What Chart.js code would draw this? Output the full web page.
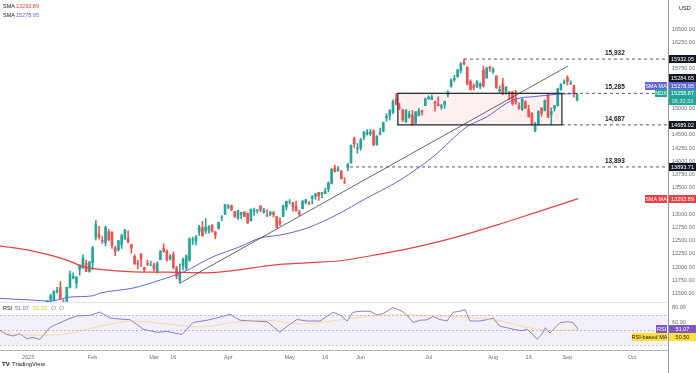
<!DOCTYPE html>
<html>
<head>
<meta charset="utf-8">
<script src="https://cdn.jsdelivr.net/npm/chart.js@4"></script>
<style>
  html, body { margin: 0; padding: 0; background: #fff; }
  #wrap { position: relative; width: 696px; height: 373px; overflow: hidden; }
  #price { position: absolute; left: 0; top: 0; }
  #rsi { position: absolute; left: 0; top: 302px; }
</style>
</head>
<body>
<div id="wrap">
  <canvas id="price" width="696" height="302"></canvas>
  <canvas id="rsi" width="696" height="71"></canvas>
</div>
<script>
// NDX daily candles, bar index 0 = 3 Jan 2023
const open = [11034,10934,10842,10815,11124,11079,11206,11397,11375,11530,
  11615,11339,11352,11612,11795,11700,11954,11982,12074,11920,
  12084,12566,12620,12507,12459,12669,12660,12367,12330,12426,
  12530,12545,12424,12205,12065,12243,11996,12070,12036,12040,
  11894,12143,12353,12302,12155,12238,11987,11746,12032,11988,
  12130,12510,12488,12666,12744,12684,12699,12791,12669,12735,
  12941,12998,13135,13164,13051,12928,12997,13045,13010,12881,
  13054,13068,13155,13035,12981,12994,13026,12954,12864,12957,
  13136,13235,13212,13150,13034,13105,13221,13211,13298,13342,
  13414,13377,13389,13472,13584,13881,13819,13807,13612,13879,
  13971,14426,14237,14257,14451,14510,14524,14574,14321,14514,
  14569,14822,14865,14924,15185,15024,14970,14743,14840,14875,
  14723,14864,14954,15055,15180,15165,15120,15078,15023,15072,
  15259,15409,15548,15602,15715,15873,15777,15510,15428,15417,
  15415,15719,15577,15777,15701,15613,15329,15459,15321,15312,
  15305,15187,15047,14980,15122,14977,14901,14575,14702,15005,
  14958,15279,14877,15000,15059,15358,15476,15580,15471,15432,
  15162];
const high = [11086,10984,10861,11062,11286,11189,11364,11491,11554,11619,
  11727,11387,11624,11925,11892,11822,12045,12233,12131,12102,
  12395,12881,12773,12580,12780,12714,12673,12392,12507,12624,
  12710,12685,12431,12237,12134,12262,12002,12132,12114,12076,
  12102,12313,12442,12330,12237,12287,12018,12061,12174,12233,
  12558,12568,12596,12794,12865,12919,12788,12806,12674,12852,
  12976,13186,13190,13175,13057,13075,13036,13047,13024,13103,
  13116,13090,13165,13112,13083,13053,13056,12961,12934,13171,
  13248,13278,13229,13247,13075,13263,13283,13238,13356,13395,
  13416,13416,13494,13612,13863,13928,13904,13829,13690,13964,
  14311,14459,14336,14433,14566,14598,14605,14596,14486,14630,
  14740,14900,14978,15164,15285,15099,14987,14977,14943,14960,
  14940,15008,14967,15196,15237,15255,15138,15220,15077,15141,
  15333,15559,15626,15736,15866,15932,15790,15541,15463,15524,
  15487,15800,15783,15797,15770,15617,15426,15569,15413,15321,
  15321,15341,15104,15181,15146,15060,14923,14738,14959,15014,
  15161,15285,15012,15059,15382,15469,15540,15618,15522,15440,
  15275];
const low = [10757,10783,10719,10697,11097,11046,11167,11272,11362,11511,
  11399,11253,11317,11603,11776,11603,11847,11979,11913,11904,
  11953,12517,12529,12447,12403,12496,12352,12218,12300,12353,
  12523,12460,12263,12055,11971,12010,11910,12029,12035,11928,
  11887,12138,12280,12114,12138,11967,11779,11697,11948,11949,
  12111,12427,12422,12598,12584,12636,12641,12660,12535,12717,
  12879,12996,13101,13065,12937,12901,12916,12952,12823,12868,
  12978,13019,13044,13020,12954,12969,12947,12742,12786,12951,
  13079,13195,13060,13058,12967,13101,13194,13185,13194,13281,
  13262,13311,13387,13427,13571,13796,13812,13664,13580,13820,
  13966,14261,14152,14210,14405,14492,14487,14296,14301,14501,
  14561,14755,14781,14900,15064,14977,14755,14740,14816,14680,
  14710,14856,14870,15050,15171,15163,14949,15046,14981,15001,
  15218,15400,15507,15588,15668,15820,15441,15344,15347,15392,
  15372,15400,15565,15700,15663,15374,15300,15260,15270,15163,
  15059,15079,14980,14958,14994,14840,14683,14557,14687,14849,
  14952,14826,14687,14948,15041,15340,15462,15441,15449,15213,
  15139];
const close = [10862,10914,10741,11040,11108,11179,11364,11459,11541,11557,
  11409,11305,11620,11865,11834,11813,12041,12167,11919,12102,
  12364,12804,12574,12493,12747,12518,12409,12304,12497,12596,
  12708,12478,12359,12061,12061,12150,11951,12057,12042,11969,
  12075,12302,12303,12146,12213,11993,11830,11889,12148,12214,
  12526,12520,12573,12762,12592,12755,12767,12676,12606,12846,
  12950,13181,13148,13090,12962,13062,13035,12956,12839,13092,
  13079,13079,13084,13081,12980,13040,12996,12747,12830,13160,
  13246,13239,13142,13060,13006,13239,13276,13193,13336,13389,
  13340,13407,13433,13590,13852,13810,13856,13672,13604,13939,
  14298,14330,14254,14405,14547,14546,14554,14311,14471,14539,
  14737,14848,14957,15128,15084,15015,14788,14963,14891,14685,
  14939,14954,14934,15179,15211,15217,15099,15049,15047,15126,
  15309,15538,15565,15723,15842,15846,15465,15356,15395,15509,
  15466,15428,15758,15757,15735,15391,15358,15274,15402,15276,
  15087,15115,15006,15178,15003,14841,14694,14694,14941,14902,
  15148,14829,14941,15048,15366,15452,15501,15510,15481,15284,
  15259];

// moving averages (bar index, value)
const sma50Idx = [-8.7,1.5,6.8,13,20,22.3,32.5,40.9,48,57.3,65.6,71.8,78,86.4,96.6,103.7,115.2,125.4,135.9,142.1,148.3,152.3,156.3,164.7,170.3];
const sma50 = [11410,11378,11359,11435,11459,11510,11605,11756,11907,12197,12386,12550,12607,12739,13022,13268,13646,14086,14653,14842,15101,15196,15220,15271,15279];
const sma200Idx = [-8.7,1.5,12.1,17,22.3,32.5,43,55.4,63.5,75.9,86.4,96.6,109,121.4,133.7,146.1,158.5,170.3];
const sma200 = [12404,12304,12134,12011,11958,11913,11907,11894,11936,12040,12083,12121,12248,12399,12588,12815,13060,13294];

// RSI pane
const rsiIdx = [-8.7,-6.6,-4.6,-2.5,-0.4,1.5,3.7,6.8,12.1,15.2,19.2,22.3,25.4,28.5,31.6,33.7,35.6,39.9,43,47.7,
  51.1,55.4,58.5,62.5,65.6,69.7,74,78,80.2,83.3,86.4,90.4,94.4,96.6,98.8,100.6,102.8,105.9,108,110,
  113,115.8,117.3,119.2,121.4,123.5,125.4,127.6,129.7,131.6,133.7,135.3,136.8,139.9,142.4,144,146.1,148.3,150.2,152.9,
  154.5,156.3,157.6,159.1,160.1,161.6,164.7,166.9,168.7,170.3];
const rsiVal = [50,44,42,45,38.5,40,37.6,53.5,64,68.7,69.6,74,66,64.5,63.7,57.6,51,47,48,44,
  60,63,66,71,63,62,61,47,55,64,62,62,73.6,70,62,73.6,75,75,70,72,
  80,75,70,60,63,63.5,68,64,62,73.6,75,77,62,62,64,66,55,53,51,49,
  51,44,37.7,44,53,46,60,61,60,51.07];
const rsiMaIdx = [-8.7,1.5,12.1,22.3,32.5,43,53.3,63.5,74,84.2,94.4,105,115.2,125.4,135.9,146.1,156.3,164.7,170.3];
const rsiMa = [47,43,45,55,62,58,54,60,63,58,62,68,71,69,67,62,52,49,50.5];

// drawings
const levels = [15932.05, 15284.65, 14689.02, 13893.71];
const levelFrom = [135, 165.3, 165.3, 99.7];
const levelText = ['15,932', '15,285', '14,687', '13,893'];
const boxFrom = 114.5, boxTo = 165.3;
const trendIdx = [47, 167.2];
const trendVal = [11697, 15801];

// axes
const priceTicks = [11500,11750,12000,12250,12500,12750,13000,13500,13750,14000,14250,14500,15000,15750,16250,16500];
const tickIdx = [0, 20, 39, 45, 62, 81, 92, 103, 124, 144, 155, 167, 187];
const tickText = ['2023', 'Feb', 'Mar', '16', 'Apr', 'May', '16', 'Jun', 'Jul', 'Aug', '16', 'Sep', 'Oct'];

const UP = '#26a69a', DOWN = '#ef5350';
const SMA_RED = '#e8413f', SMA_BLUE = '#6266d6', RSI_COL = '#8b7fcf';
const xMin = -8.67, xMax = 198.14;
const FONT = '"Liberation Sans", Arial, sans-serif';
Chart.defaults.font.family = FONT;

const candleColor = c => close[c.dataIndex] >= open[c.dataIndex] ? UP : DOWN;
const pts = (xs, ys) => xs.map((x, k) => ({x: x, y: ys[k]}));
const noPad = s => { s.paddingTop = 0; s.paddingBottom = 0; s.paddingLeft = 0; s.paddingRight = 0; };

function tag(ctx, x, y, w, text, bg, fg) {
  ctx.fillStyle = bg;
  ctx.fillRect(x, Math.round(y) - 4, w, 8);
  ctx.fillStyle = fg;
  ctx.textAlign = 'center';
  ctx.textBaseline = 'middle';
  ctx.fillText(text, x + w / 2, Math.round(y) + 0.5);
}

const priceDecor = {
  id: 'priceDecor',
  beforeDatasetsDraw(chart) {
    const {ctx, scales: {x, y}} = chart;
    const x0 = x.getPixelForValue(boxFrom), x1 = x.getPixelForValue(boxTo);
    const y0 = y.getPixelForValue(levels[1]), y1 = y.getPixelForValue(levels[2]);
    ctx.save();
    ctx.fillStyle = 'rgba(242, 54, 69, 0.08)';
    ctx.fillRect(x0, y0, x1 - x0, y1 - y0);
    ctx.restore();
  },
  afterDatasetsDraw(chart) {
    const {ctx, scales: {x, y}} = chart;
    const x0 = x.getPixelForValue(boxFrom), x1 = x.getPixelForValue(boxTo);
    const y0 = y.getPixelForValue(levels[1]), y1 = y.getPixelForValue(levels[2]);
    ctx.save();
    ctx.strokeStyle = '#2a2e39';
    ctx.lineWidth = 1.3;
    ctx.strokeRect(x0, y0, x1 - x0, y1 - y0);
    // level captions
    ctx.font = 'bold 6.5px ' + FONT;
    ctx.fillStyle = '#131722';
    ctx.textAlign = 'left';
    ctx.textBaseline = 'alphabetic';
    levels.forEach((v, k) => {
      ctx.fillText(levelText[k], x.getPixelForValue(178.6), y.getPixelForValue(v) - 4);
    });
    ctx.restore();
  },
  afterDraw(chart) {
    const {ctx, scales: {y}} = chart;
    const ax = 669, aw = 27;
    ctx.save();
    ctx.font = '5.5px ' + FONT;
    // axis tags
    tag(ctx, ax, y.getPixelForValue(levels[0]), aw, '15932.05', '#131722', '#fff');
    const last = y.getPixelForValue(close[close.length - 1]) - 1.5;
    tag(ctx, ax, last - 15, aw, '15284.65', '#131722', '#fff');
    tag(ctx, ax, last - 7.5, aw, '15278.95', SMA_BLUE, '#fff');
    tag(ctx, ax, last, aw, '15258.87', UP, '#fff');
    tag(ctx, ax, last + 7.5, aw, '06:32:33', UP, '#cfeee9');
    tag(ctx, ax, y.getPixelForValue(levels[2]), aw, '14689.02', '#131722', '#fff');
    tag(ctx, ax, y.getPixelForValue(levels[3]), aw, '13893.71', '#131722', '#fff');
    tag(ctx, ax, y.getPixelForValue(13293.89), aw, '13293.89', SMA_RED, '#fff');
    // pane labels left of the axis
    tag(ctx, 645, last - 7.5, 22, 'SMA MA', SMA_BLUE, '#fff');
    tag(ctx, 655, last, 12, 'NDX', UP, '#fff');
    tag(ctx, 645, y.getPixelForValue(13293.89), 22, 'SMA MA', SMA_RED, '#fff');
    // currency
    ctx.fillStyle = '#131722';
    ctx.textAlign = 'left';
    ctx.fillText('USD', 679, 8);
    // legends
    ctx.textBaseline = 'middle';
    ctx.fillStyle = '#131722';
    ctx.fillText('SMA', 3, 6);
    ctx.fillText('SMA', 3, 15);
    ctx.fillStyle = SMA_RED;
    ctx.fillText('13293.89', 16, 6);
    ctx.fillStyle = SMA_BLUE;
    ctx.fillText('15278.95', 16, 15);
    ctx.restore();
  }
};

new Chart(document.getElementById('price'), {
  type: 'bar',
  data: {
    datasets: [
      {type: 'bar', data: close.map((c, i) => ({x: i, y: [low[i], high[i]]})),
        backgroundColor: candleColor, barThickness: 1, grouped: false, order: 6},
      {type: 'bar', data: close.map((c, i) => ({x: i, y: [open[i], c]})),
        backgroundColor: candleColor, barThickness: 2, grouped: false, order: 5},
      {type: 'line', data: pts(sma200Idx, sma200), borderColor: SMA_RED, borderWidth: 1.2,
        pointRadius: 0, cubicInterpolationMode: 'monotone', order: 2},
      {type: 'line', data: pts(sma50Idx, sma50), borderColor: SMA_BLUE, borderWidth: 1,
        pointRadius: 0, cubicInterpolationMode: 'monotone', order: 2},
      {type: 'line', data: pts(trendIdx, trendVal), borderColor: '#3b3e47', borderWidth: 0.8,
        pointRadius: 0, order: 1},
      ...levels.map((v, k) => ({type: 'line', data: [{x: levelFrom[k], y: v}, {x: xMax, y: v}],
        borderColor: '#2a2e39', borderWidth: 0.8, borderDash: [3, 3], pointRadius: 0, order: 1}))
    ]
  },
  options: {
    responsive: false, animation: false, devicePixelRatio: 1,
    layout: {padding: 0},
    plugins: {legend: {display: false}, tooltip: {enabled: false}},
    scales: {
      x: {type: 'linear', min: xMin, max: xMax, display: false, offset: false},
      y: {position: 'right', min: 11342, max: 17048,
        afterFit: s => { s.width = 28; noPad(s); },
        afterBuildTicks: s => { s.ticks = priceTicks.map(v => ({value: v})); },
        grid: {display: false, drawTicks: false},
        border: {display: true, color: '#9598a1', width: 1},
        ticks: {padding: 4, font: {size: 5.5}, color: '#6a6d78', callback: v => v.toFixed(2)}}
    }
  },
  plugins: [priceDecor]
});

const rsiDecor = {
  id: 'rsiDecor',
  beforeDatasetsDraw(chart) {
    const {ctx, chartArea: a, scales: {y}} = chart;
    ctx.save();
    ctx.fillStyle = 'rgba(126, 87, 194, 0.09)';
    ctx.fillRect(a.left, y.getPixelForValue(70), a.right - a.left, y.getPixelForValue(30) - y.getPixelForValue(70));
    ctx.strokeStyle = 'rgba(120, 123, 134, 0.55)';
    ctx.lineWidth = 0.8;
    ctx.setLineDash([2, 2]);
    [70, 50, 30].forEach(v => {
      const py = Math.round(y.getPixelForValue(v)) + 0.5;
      ctx.beginPath();
      ctx.moveTo(a.left, py);
      ctx.lineTo(a.right, py);
      ctx.stroke();
    });
    ctx.restore();
  },
  afterDraw(chart) {
    const {ctx, chartArea: a, scales: {y}} = chart;
    ctx.save();
    ctx.strokeStyle = '#e0e3eb';
    ctx.lineWidth = 1;
    ctx.beginPath();
    ctx.moveTo(0, 0.5);
    ctx.lineTo(a.right, 0.5);
    ctx.stroke();
    ctx.strokeStyle = '#9598a1';
    ctx.beginPath();
    ctx.moveTo(a.right + 0.5, a.bottom);
    ctx.lineTo(a.right + 0.5, chart.height);
    ctx.stroke();
    ctx.font = '5.5px ' + FONT;
    // legend
    ctx.textAlign = 'left';
    ctx.textBaseline = 'middle';
    ctx.fillStyle = '#131722';
    ctx.fillText('RSI', 3, 6);
    ctx.fillStyle = '#7e57c2';
    ctx.fillText('51.07', 15, 6);
    ctx.fillStyle = '#e6c44a';
    ctx.fillText('50.50', 33, 6);
    ctx.fillStyle = '#787b86';
    ctx.fillText('\u2205  \u2205', 51, 6);
    // tags
    const r = y.getPixelForValue(51.07);
    tag(ctx, 669, r, 27, '51.07', '#7e57c2', '#fff');
    tag(ctx, 669, r + 8, 27, '50.50', '#fde03a', '#131722');
    tag(ctx, 656, r, 11, 'RSI', '#7e57c2', '#fff');
    tag(ctx, 632, r + 8, 35, 'RSI-based MA', '#fde03a', '#131722');
    // brand
    ctx.fillStyle = '#131722';
    ctx.font = 'bold 6px ' + FONT;
    ctx.textAlign = 'left';
    ctx.fillText('TV', 2, 62);
    ctx.font = '6px ' + FONT;
    ctx.fillText('TradingView', 12, 62);
    ctx.restore();
  }
};

new Chart(document.getElementById('rsi'), {
  type: 'line',
  data: {
    datasets: [
      {data: pts(rsiMaIdx, rsiMa), borderColor: 'rgba(240, 205, 90, 0.5)', borderWidth: 1,
        pointRadius: 0, cubicInterpolationMode: 'monotone'},
      {data: pts(rsiIdx, rsiVal), borderColor: RSI_COL, borderWidth: 1, pointRadius: 0}
    ]
  },
  options: {
    responsive: false, animation: false, devicePixelRatio: 1,
    layout: {padding: 0},
    plugins: {legend: {display: false}, tooltip: {enabled: false}},
    scales: {
      x: {type: 'linear', min: xMin, max: xMax, offset: false,
        afterFit: s => { s.height = 23; noPad(s); },
        afterBuildTicks: s => { s.ticks = tickIdx.map(v => ({value: v})); },
        grid: {display: false, drawTicks: false},
        border: {display: true, color: '#b2b5be', width: 1},
        ticks: {padding: 4, maxRotation: 0, autoSkip: false, font: {size: 5.5}, color: '#6a6d78',
          callback: v => tickText[tickIdx.indexOf(v)]}},
      y: {position: 'right', min: 23.33, max: 87.33,
        afterFit: s => { s.width = 28; noPad(s); },
        afterBuildTicks: s => { s.ticks = [80, 60].map(v => ({value: v})); },
        grid: {display: false, drawTicks: false},
        border: {display: true, color: '#9598a1', width: 1},
        ticks: {padding: 4, font: {size: 5.5}, color: '#6a6d78', callback: v => v.toFixed(2)}}
    }
  },
  plugins: [rsiDecor]
});
</script>
</body>
</html>
